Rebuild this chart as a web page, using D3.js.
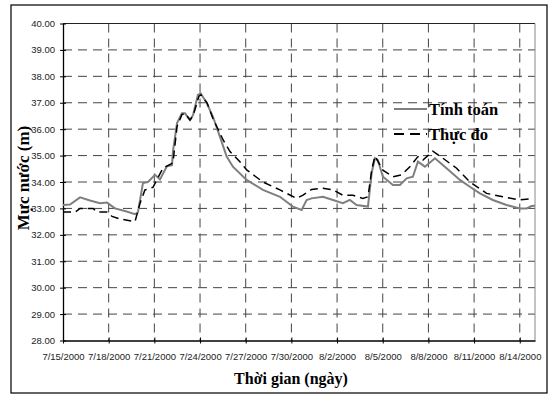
<!DOCTYPE html>
<html lang="vi">
<head>
<meta charset="UTF-8" />
<title>Mực nước</title>
<script src="https://d3js.org/d3.v7.min.js"></script>
<style>
  body { margin: 0; background: #fff; }
  .tick text { font-family: "Liberation Sans", Arial, sans-serif; font-size: 9.5px; fill: #222; }
  .title { font-family: "Liberation Serif", "Times New Roman", serif; font-weight: bold; fill: #000; }
</style>
</head>
<body>
<div id="chart"></div>
<script>
// days after 7/15/2000 and water level (m)
var calcDays  = [0, 0.46, 1.12, 1.77, 2.43, 2.89, 3.41, 4.07, 4.73, 4.92, 5.25, 5.58, 6.04, 6.37, 6.83, 7.16, 7.22, 7.49, 7.81, 8.01, 8.34, 8.54, 8.86, 9.04, 9.44, 9.85, 10.31, 10.75, 11.16, 12.06, 13.13, 14.25, 15.1, 15.67, 16.0, 16.33, 17.07, 17.73, 18.38, 18.84, 19.28, 20.03, 20.27, 20.49, 20.68, 21.01, 21.67, 22.13, 22.57, 22.98, 23.31, 23.77, 24.43, 25.19, 26.07, 26.72, 27.38, 28.23, 29.13, 30.0, 30.45, 30.77, 31.0];
var calcLevel = [33.13, 33.15, 33.42, 33.3, 33.2, 33.22, 33.0, 32.9, 32.78, 32.85, 33.96, 34.0, 34.27, 34.1, 34.6, 34.64, 35.15, 36.23, 36.6, 36.6, 36.35, 36.53, 37.3, 37.36, 36.99, 36.47, 35.71, 34.96, 34.58, 34.08, 33.7, 33.44, 33.07, 32.94, 33.32, 33.38, 33.44, 33.32, 33.2, 33.32, 33.13, 33.07, 34.34, 34.9, 34.83, 34.2, 33.89, 33.89, 34.14, 34.2, 34.77, 34.58, 34.9, 34.52, 34.08, 33.82, 33.57, 33.32, 33.13, 33.0, 33.0, 33.09, 33.1];

var obsDays  = [0, 0.79, 1.12, 1.97, 2.23, 2.89, 3.22, 3.74, 4.73, 5.06, 5.38, 5.91, 6.57, 7.22, 7.49, 7.81, 8.01, 8.34, 8.54, 8.93, 9.06, 9.46, 9.85, 10.51, 10.97, 11.62, 12.06, 13.13, 14.25, 15.34, 15.76, 16.33, 17.07, 17.73, 18.38, 19.04, 19.7, 20.03, 20.29, 20.49, 21.01, 21.67, 22.24, 22.78, 23.31, 23.64, 24.29, 24.95, 25.85, 26.72, 27.82, 28.89, 30.0, 30.86];
var obsLevel = [32.86, 32.86, 33.0, 33.0, 32.86, 32.86, 32.7, 32.6, 32.5, 33.2, 33.7, 33.8, 34.53, 34.72, 36.1, 36.55, 36.6, 36.35, 36.5, 37.25, 37.3, 37.0, 36.4, 35.6, 35.15, 34.77, 34.46, 34.0, 33.7, 33.38, 33.5, 33.72, 33.76, 33.7, 33.5, 33.5, 33.38, 33.44, 34.5, 34.98, 34.45, 34.2, 34.27, 34.58, 34.96, 34.83, 35.17, 34.9, 34.52, 34.0, 33.57, 33.44, 33.32, 33.38];

var tickDays = [0, 3, 6, 9, 12, 15, 18, 21, 24, 27, 30];
var levelTicks = [28, 29, 30, 31, 32, 33, 34, 35, 36, 37, 38, 39, 40];
var seriesNames = ["Tính toán", "Thực đo"];

var W = 553, H = 396;
var margin = {top: 23.5, right: 18, bottom: 55.5, left: 63};
var start = Date.UTC(2000, 6, 15);
var day = 86400000;
function toDate(d) { return new Date(start + d * day); }

var svg = d3.select("#chart").append("svg")
  .attr("width", W).attr("height", H);

// outer frame
svg.append("rect")
  .attr("x", 11).attr("y", 5).attr("width", 536).attr("height", 388)
  .attr("fill", "#fff").attr("stroke", "#111").attr("stroke-width", 1.3);

var x = d3.scaleUtc()
  .domain([toDate(0), toDate(31)])
  .range([margin.left, W - margin.right]);
var y = d3.scaleLinear()
  .domain([28, 40])
  .range([H - margin.bottom, margin.top]);

// grid
var grid = svg.append("g");
grid.selectAll(".hg").data(levelTicks.slice(1, -1)).enter().append("line")
  .attr("x1", margin.left).attr("x2", W - margin.right)
  .attr("y1", function(d) { return y(d); }).attr("y2", function(d) { return y(d); })
  .attr("stroke", "#444").attr("stroke-dasharray", "9,6");
grid.selectAll(".vg").data(tickDays.slice(1)).enter().append("line")
  .attr("x1", function(d) { return x(toDate(d)); }).attr("x2", function(d) { return x(toDate(d)); })
  .attr("y1", margin.top).attr("y2", H - margin.bottom)
  .attr("stroke", "#444").attr("stroke-dasharray", "9,6");

// plot border top / right
svg.append("line").attr("x1", margin.left).attr("x2", W - margin.right)
  .attr("y1", margin.top).attr("y2", margin.top).attr("stroke", "#222");
svg.append("line").attr("x1", W - margin.right).attr("x2", W - margin.right)
  .attr("y1", margin.top).attr("y2", H - margin.bottom).attr("stroke", "#888");

// axes
var xAxis = d3.axisBottom(x)
  .tickValues(tickDays.map(toDate))
  .tickFormat(d3.utcFormat("%-m/%-d/%Y"))
  .tickSizeOuter(0).tickSizeInner(3).tickPadding(10);
var gx = svg.append("g").attr("transform", "translate(0," + (H - margin.bottom) + ")").call(xAxis);
gx.selectAll(".tick line").attr("y1", -3).attr("y2", 3);
gx.select(".domain").attr("stroke", "#000").attr("stroke-width", 1.3);

var yAxis = d3.axisLeft(y)
  .tickValues(levelTicks)
  .tickFormat(d3.format(".2f"))
  .tickSizeOuter(0).tickSizeInner(3).tickPadding(5);
var gy = svg.append("g").attr("transform", "translate(" + margin.left + ",0)").call(yAxis);
gy.selectAll(".tick line").attr("x1", -3).attr("x2", 3);
gy.select(".domain").attr("stroke", "#000").attr("stroke-width", 1.3);

// lines
var line = d3.line()
  .x(function(d) { return x(toDate(d[0])); })
  .y(function(d) { return y(d[1]); });

svg.append("path")
  .datum(d3.zip(calcDays, calcLevel))
  .attr("d", line)
  .attr("fill", "none").attr("stroke", "#7f7f7f").attr("stroke-width", 2);
svg.append("path")
  .datum(d3.zip(obsDays, obsLevel))
  .attr("d", line)
  .attr("fill", "none").attr("stroke", "#000").attr("stroke-width", 1.5)
  .attr("stroke-dasharray", "8,5");

// legend
var legend = svg.append("g").attr("transform", "translate(394,109)");
seriesNames.forEach(function(name, i) {
  var g = legend.append("g").attr("transform", "translate(0," + (i * 25) + ")");
  g.append("line").attr("x1", 0).attr("x2", 33)
    .attr("stroke", i === 0 ? "#7f7f7f" : "#000")
    .attr("stroke-width", i === 0 ? 2 : 1.8)
    .attr("stroke-dasharray", i === 0 ? null : "10,6");
  g.append("text").attr("class", "title")
    .attr("x", 35).attr("y", 6)
    .style("font-size", "16.5px")
    .text(name);
});

// axis titles
svg.append("text").attr("class", "title")
  .attr("x", 291).attr("y", 384)
  .attr("text-anchor", "middle").style("font-size", "16px")
  .text("Thời gian (ngày)");
svg.append("text").attr("class", "title")
  .attr("transform", "translate(29,178) rotate(-90)")
  .attr("text-anchor", "middle").style("font-size", "17px")
  .text("Mực nước (m)");
</script>
</body>
</html>
